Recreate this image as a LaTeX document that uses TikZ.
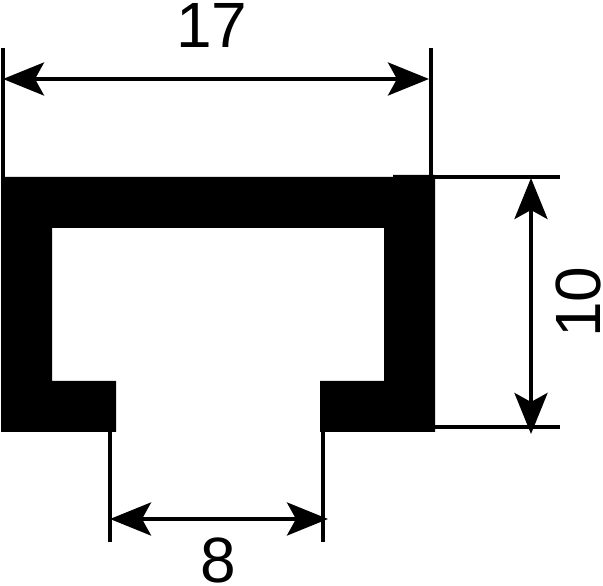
\documentclass[tikz,border=0pt]{standalone}
\usepackage{fontspec}
\setmainfont{Liberation Sans}
\usetikzlibrary{arrows.meta}
\tikzset{
	extline/.style={line width=4pt},
	dimline/.style={line width=4pt,{Stealth[length=41pt,width=33pt,inset=9pt]}-{Stealth[length=41pt,width=33pt,inset=9pt]}},
	dimtext/.style={inner sep=0pt,font=\fontsize{64}{70}\selectfont}
}
\begin{document}
\begin{tikzpicture}[x=1pt,y=1pt]
		\useasboundingbox (0,0) rectangle (603,586);
		% profile
		\fill[black] (1,409) -- (393,409) -- (393,411) -- (435,411) -- (435,154)
			-- (320,154) -- (320,205) -- (384,205) -- (384,358) -- (52,358) -- (52,205)
			-- (116,205) -- (116,154) -- (1,154) -- cycle;
		% width on top
		\coordinate (topL) at (3,538);
		\coordinate (baseL) at (3,408);
		\coordinate (topR) at (431,538);
		\coordinate (baseR) at (431,410);
		\coordinate (widthL) at (3,507);
		\coordinate (widthR) at (429,507);
		\draw[extline] (topL) -- (baseL);
		\draw[extline] (topR) -- (baseR);
		\draw[dimline] (widthL) -- (widthR);
		\node[dimtext] (width) at (212,561) {17};
		% height on the right
		\coordinate (upA) at (435,409);
		\coordinate (upB) at (560,409);
		\coordinate (lowA) at (435,159);
		\coordinate (lowB) at (560,159);
		\coordinate (heightT) at (531,408);
		\coordinate (heightB) at (531,152);
		\draw[extline] (upA) -- (upB);
		\draw[extline] (lowA) -- (lowB);
		\draw[dimline] (heightT) -- (heightB);
		\node[dimtext,rotate=90] (height) at (578,284) {10};
		% slot at the bottom
		\coordinate (slotA) at (110,154);
		\coordinate (slotB) at (110,44);
		\coordinate (slotC) at (323,154);
		\coordinate (slotD) at (323,44);
		\coordinate (gapL) at (110,67);
		\coordinate (gapR) at (328,67);
		\draw[extline] (slotA) -- (slotB);
		\draw[extline] (slotC) -- (slotD);
		\draw[dimline] (gapL) -- (gapR);
		\node[dimtext] (gap) at (218.5,26) {8};
\end{tikzpicture}
\end{document}
